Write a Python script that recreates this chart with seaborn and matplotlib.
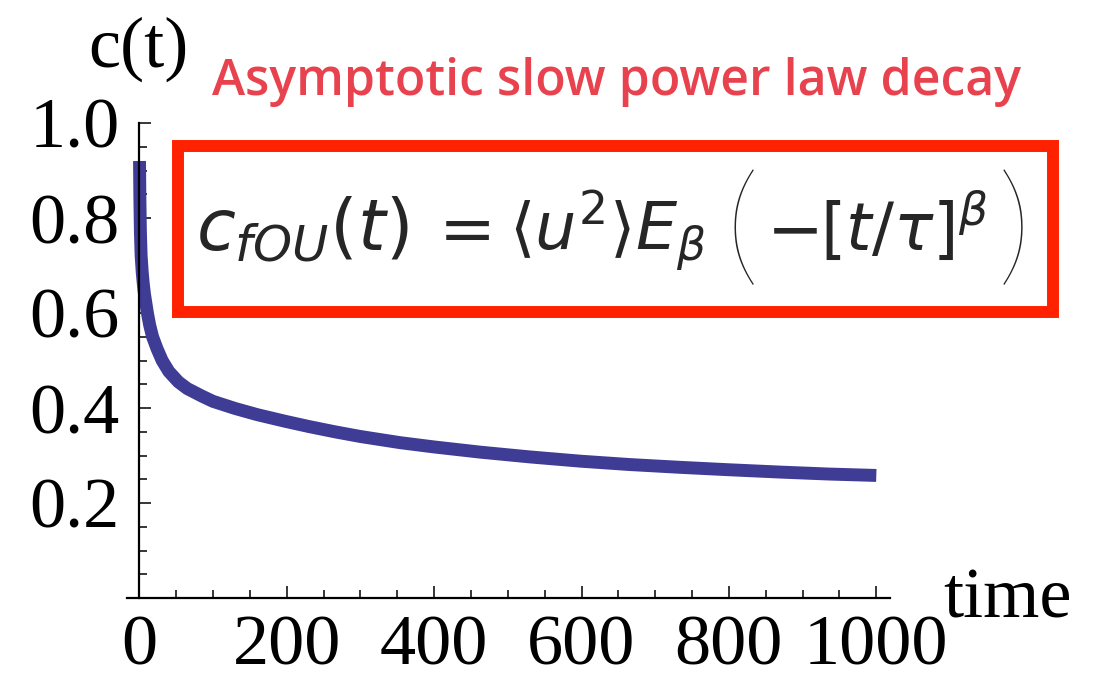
import matplotlib
matplotlib.use("Agg")
import matplotlib.pyplot as plt
from matplotlib.ticker import MultipleLocator, FixedLocator
from matplotlib.patches import Rectangle
import pandas as pd
import seaborn as sns

# Correlation function c(t) of the fractional Ornstein-Uhlenbeck process
time_vals = [0.3, 0.8, 1.5, 2.5, 4, 5.5, 7, 9, 11, 14, 18, 24, 31, 40,
             53, 65, 85, 100, 130, 160, 198, 230, 265, 300, 354, 400, 463,
             530, 599, 665, 735, 800, 871, 935, 1000]
c_vals = [0.92, 0.84, 0.77, 0.72, 0.685, 0.66, 0.64, 0.62, 0.60, 0.575,
          0.55, 0.525, 0.50, 0.477, 0.455, 0.441, 0.425, 0.414, 0.399,
          0.386, 0.372, 0.361, 0.350, 0.340, 0.327, 0.318, 0.307, 0.297,
          0.288, 0.281, 0.275, 0.270, 0.265, 0.261, 0.258]

x_major = [0, 200, 400, 600, 800, 1000]
y_major = [0.2, 0.4, 0.6, 0.8, 1.0]
y_labels = ["0.2", "0.4", "0.6", "0.8", "1.0"]

title_text = "Asymptotic slow power law decay"

sns.set_style("ticks")
plt.rcParams["font.family"] = ["Liberation Serif", "DejaVu Serif"]
plt.rcParams["mathtext.fontset"] = "dejavusans"

W, H = 1102, 679
fig = plt.figure(figsize=(W / 100, H / 100), dpi=100)

# axes placed in pixel terms: x-axis line at y=598, y from 0 to 1 spanning 475 px
ax_left, ax_right, ax_bottom, ax_top = 127, 890, 598, 123
ax = fig.add_axes([ax_left / W, 1 - ax_bottom / H,
                   (ax_right - ax_left) / W, (ax_bottom - ax_top) / H])
px_per_unit = 147.4 / 200
x0_px = 139.3
ax.set_xlim((ax_left - x0_px) / px_per_unit, (ax_right - x0_px) / px_per_unit)
ax.set_ylim(0, 1.0)

df = pd.DataFrame({"time": time_vals, "c": c_vals})
sns.lineplot(data=df, x="time", y="c", ax=ax, color="#3F3C96",
             linewidth=9.3, solid_capstyle="butt", solid_joinstyle="round",
             estimator=None, sort=True)

for side in ["top", "right"]:
    ax.spines[side].set_visible(False)
ax.spines["left"].set_position(("data", 0))
for side in ["left", "bottom"]:
    ax.spines[side].set_linewidth(1.6)
    ax.spines[side].set_color("black")

ax.xaxis.set_major_locator(FixedLocator(x_major))
ax.xaxis.set_minor_locator(MultipleLocator(50))
ax.yaxis.set_major_locator(FixedLocator(y_major))
ax.yaxis.set_minor_locator(MultipleLocator(0.05))
ax.set_xticklabels([str(v) for v in x_major])
ax.set_yticklabels(y_labels)

ax.tick_params(axis="both", which="both", direction="in", bottom=True,
               left=True, top=False, right=False, color="black", width=1.1)
ax.tick_params(axis="both", which="major", length=8.6, labelsize=52,
               labelcolor="black")
ax.tick_params(axis="both", which="minor", length=5.6)
ax.tick_params(axis="y", which="major", pad=14)
ax.tick_params(axis="x", which="major", pad=12)
ax.set_xlabel("")
ax.set_ylabel("")
ax.patch.set_alpha(0)


def fx(px):
    return px / W


def fy(py):
    return 1 - py / H


fig.text(fx(88), fy(67), "c(t)", fontsize=52, color="black",
         ha="left", va="baseline")
fig.text(fx(943), fy(617), "time", fontsize=52, color="black",
         ha="left", va="baseline")

fig.text(fx(212), fy(95), title_text, fontsize=36, color="#E8424E",
         family=["Open Sans", "DejaVu Sans"], weight="semibold",
         ha="left", va="baseline")

# boxed formula
box = Rectangle((fx(178), fy(312)), fx(1053) - fx(178), fy(146) - fy(312),
                transform=fig.transFigure, fill=False, edgecolor="#FF2200",
                linewidth=8.6, joinstyle="miter")
fig.add_artist(box)

base = fy(250)
fig.text(fx(196), base, r"$c_{fOU}(t)$", fontsize=51, ha="left", va="baseline")
fig.text(fx(425), base, r"$=$", fontsize=49, ha="left", va="baseline")
fig.text(fx(509), base, r"$\langle u^2\rangle E_\beta$", fontsize=47,
         ha="left", va="baseline")
fig.text(fx(766), base, r"$-$", fontsize=49, ha="left", va="baseline")
fig.text(fx(820), base, r"$[t/\tau]^\beta$", fontsize=47, ha="left",
         va="baseline")
# tall delimiters around the argument
fig.text(fx(742), fy(233), "(", fontsize=95, family=["Lato", "DejaVu Sans"],
         weight="light", ha="center", va="center")
fig.text(fx(1014), fy(233), ")", fontsize=95, family=["Lato", "DejaVu Sans"],
         weight="light", ha="center", va="center")

fig.savefig("out.png", dpi=100)
